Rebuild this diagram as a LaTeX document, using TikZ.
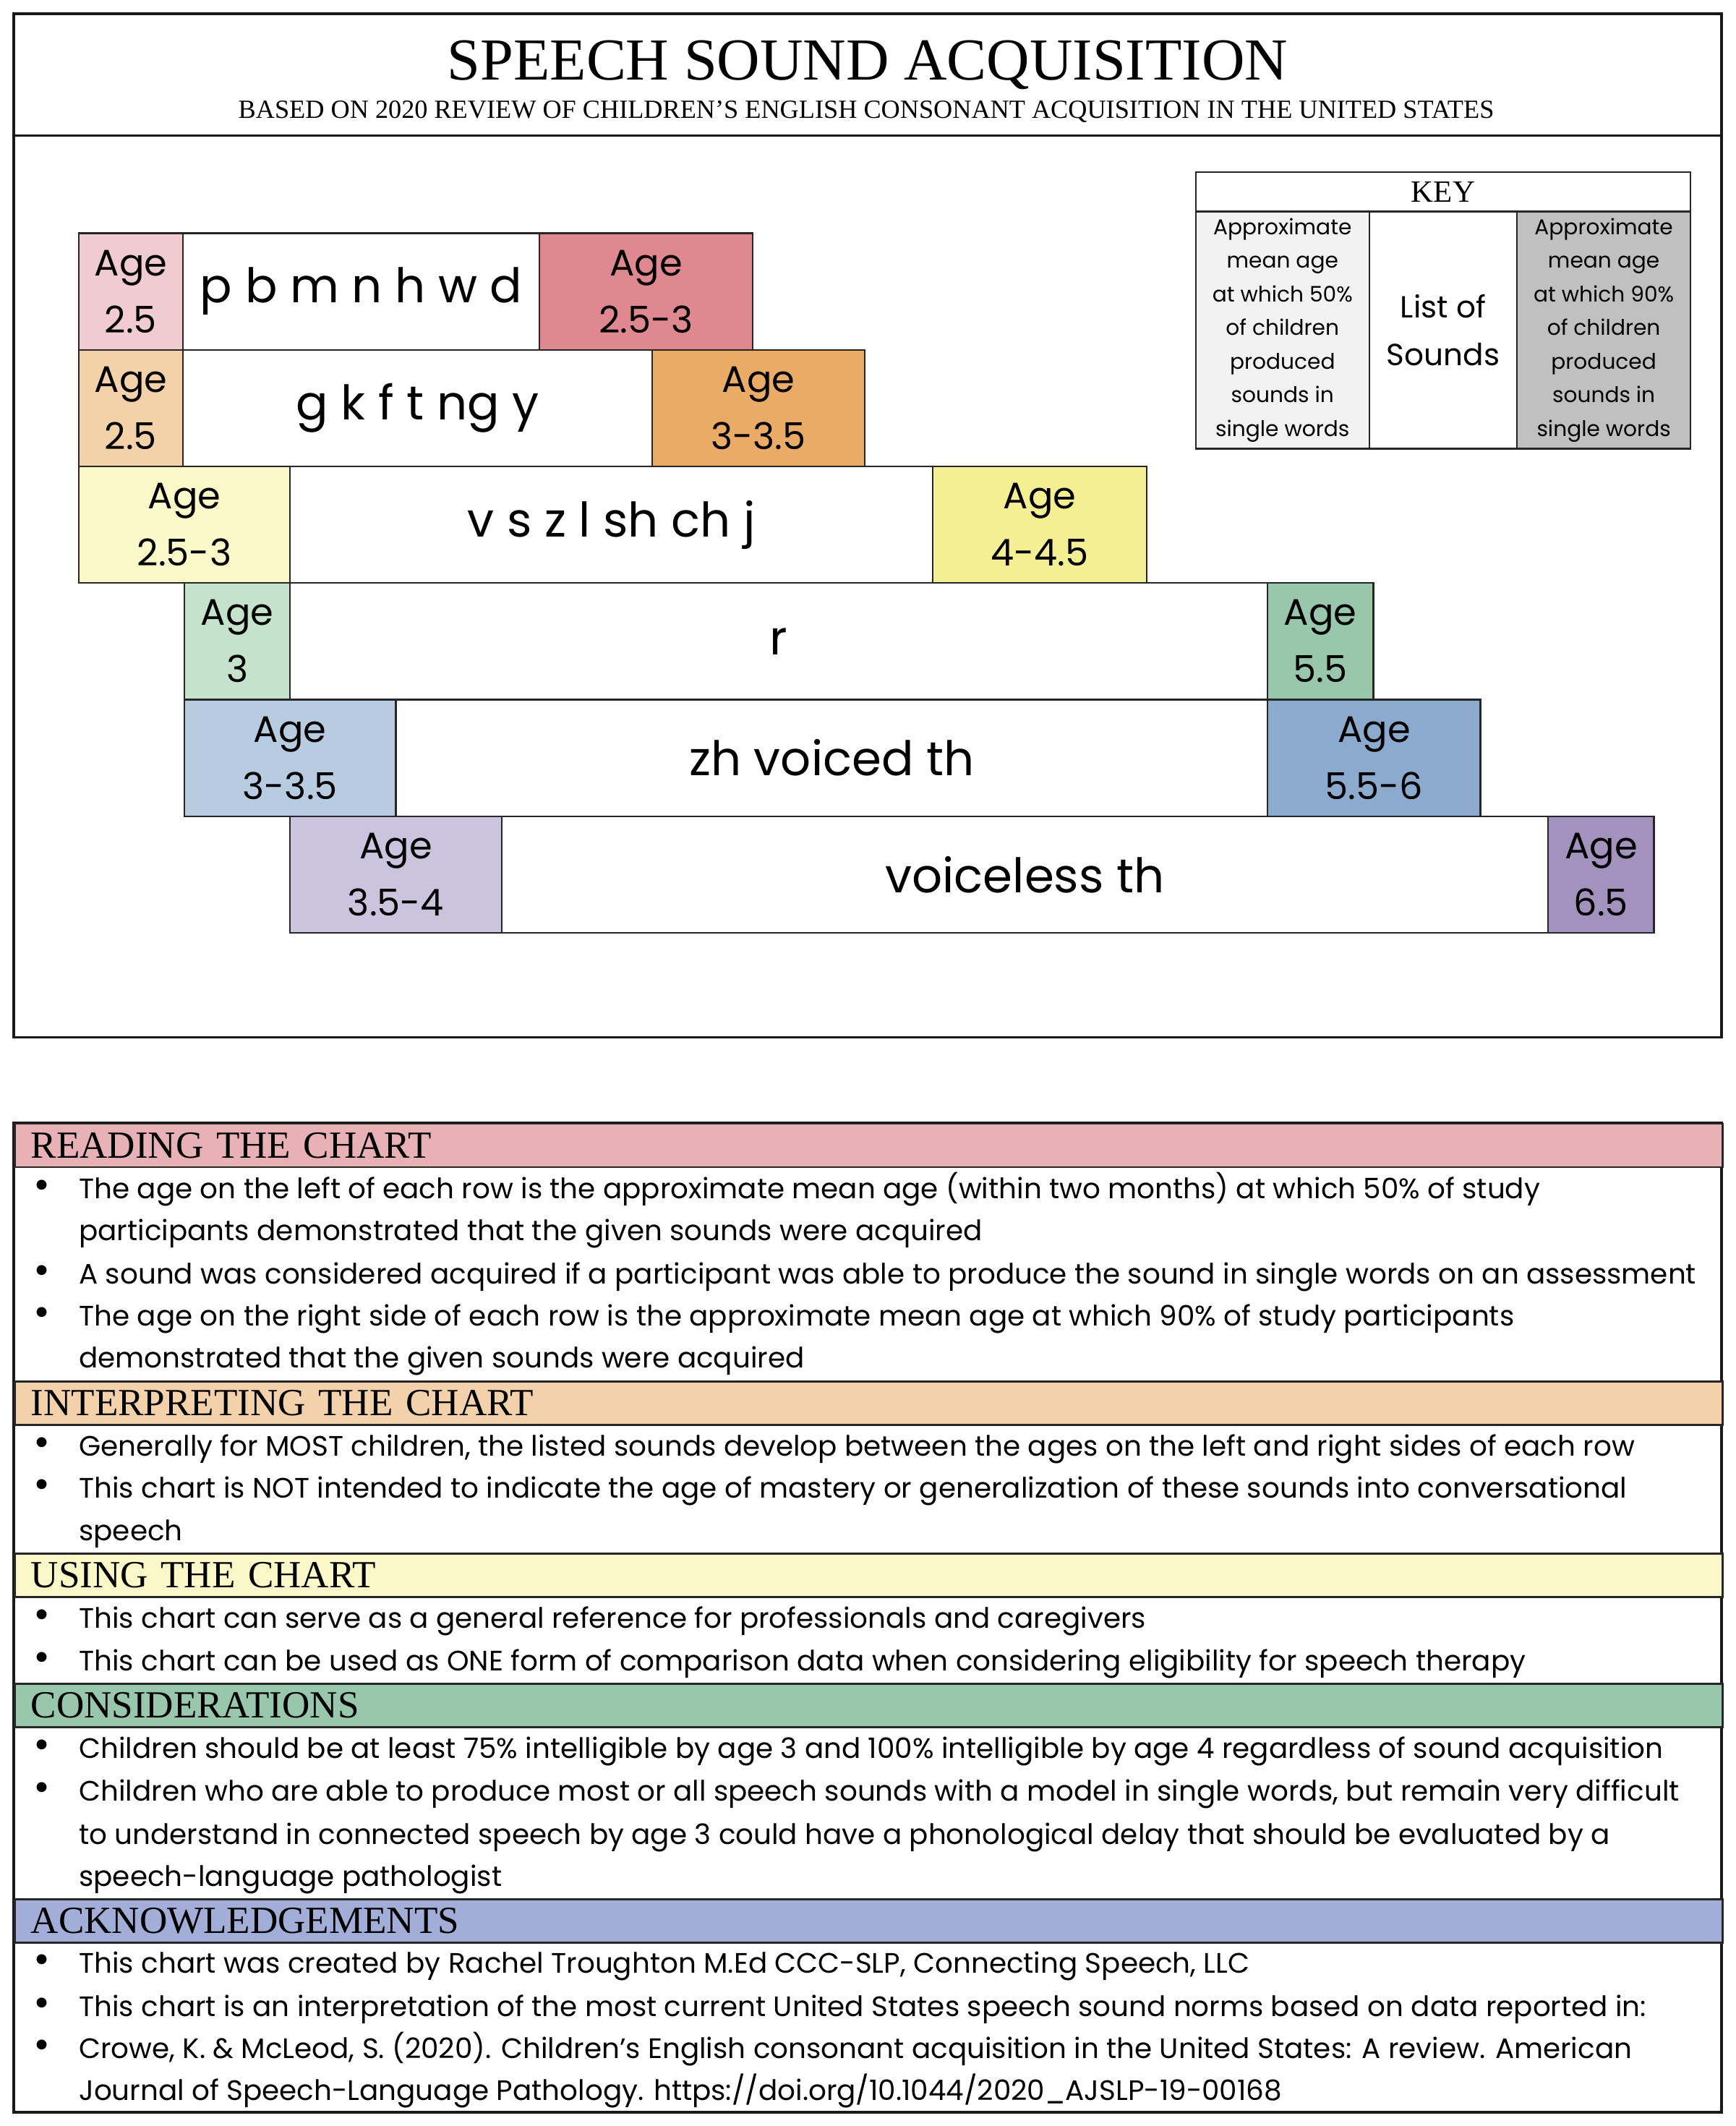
\documentclass[tikz,border=0pt]{standalone}
\usepackage{fontspec}
\setmainfont{Poppins}
\newfontfamily\headfont{Liberation Serif}
\usetikzlibrary{positioning}

% colours of the chart
\definecolor{lowA}{HTML}{F0CBD1}
\definecolor{highA}{HTML}{E0888F}
\definecolor{lowB}{HTML}{F4D2A9}
\definecolor{highB}{HTML}{EAAB66}
\definecolor{lowC}{HTML}{FAF7C8}
\definecolor{highC}{HTML}{F4EF93}
\definecolor{lowD}{HTML}{C5E3CB}
\definecolor{highD}{HTML}{98C7AB}
\definecolor{lowE}{HTML}{B8CCE1}
\definecolor{highE}{HTML}{8BAACE}
\definecolor{lowF}{HTML}{CBC4DE}
\definecolor{highF}{HTML}{A392BE}
\definecolor{keyL}{HTML}{F2F2F2}
\definecolor{keyR}{HTML}{C0C0C0}
\definecolor{hdReading}{HTML}{E7B1B6}
\definecolor{hdInterp}{HTML}{F3D1AB}
\definecolor{hdUsing}{HTML}{FAF7C8}
\definecolor{hdConsid}{HTML}{98C7AB}
\definecolor{hdAck}{HTML}{A3AED8}

\newcommand\agefont{\fontsize{15.5}{24}\selectfont}
\newcommand\soundfont{\fontsize{20}{24}\selectfont}
\newcommand\keyfont{\fontsize{9}{14.1}\selectfont}
\newcommand\bodyfont{\fontsize{11.8}{17.6}\selectfont}

\tikzset{
  cell/.style={draw=black!85, line width=0.7pt, inner sep=0pt, outer sep=0pt,
    minimum height=17.2mm, align=center},
  agebox/.style={cell, font=\agefont},
  soundbox/.style={cell, fill=white, font=\soundfont},
  keycell/.style={draw=black!85, line width=0.7pt, inner sep=0pt, outer sep=0pt,
    anchor=north west, minimum height=35mm, align=center, font=\keyfont},
  headbar/.style={draw=black!85, line width=0.9pt, anchor=north west, inner xsep=2.4mm,
    inner ysep=0pt, minimum height=6.4mm, text width=247.2mm, align=left,
    font=\headfont\fontsize{16.1}{18}\selectfont},
  txt/.style={anchor=base west, inner sep=0pt, font=\bodyfont},
  dot/.style={anchor=base, inner sep=0pt, font=\fontsize{17}{18}\selectfont}
}

\begin{document}
\begin{tikzpicture}[x=0.2mm,y=-0.2mm]
  \useasboundingbox (0,0) rectangle (1280,1568);

  % Title frame
  \draw[line width=1.1pt, black!90] (10,10) rectangle (1270,765);
  \draw[line width=1.1pt, black!90] (10,100) -- (1270,100);
  \node[anchor=base, inner sep=0pt, font=\headfont\fontsize{25}{28}\selectfont] (title) at (640,59)
    {SPEECH SOUND ACQUISITION};
  \node[anchor=base, inner sep=0pt, font=\headfont\fontsize{11}{12}\selectfont] (subtitle) at (639,87)
    {BASED ON 2020 REVIEW OF CHILDREN’S ENGLISH CONSONANT ACQUISITION IN THE UNITED STATES};

  % Key
  \node[keycell, minimum width=73mm, minimum height=5.8mm, font=\headfont\fontsize{13}{15}\selectfont]
    (keyhead) at (882,127) {KEY};
  \node[keycell, fill=keyL, minimum width=25.6mm] (keylow) at (882,156)
    {Approximate\\mean age\\at which 50\%\\of children\\produced\\sounds in\\single words};
  \node[keycell, fill=white, minimum width=21.8mm, font=\fontsize{12.8}{20}\selectfont] (keylist) at (1010,156)
    {List of\\Sounds};
  \node[keycell, fill=keyR, minimum width=25.6mm] (keyhigh) at (1119,156)
    {Approximate\\mean age\\at which 90\%\\of children\\produced\\sounds in\\single words};

  % Row 1
  \node[agebox, fill=lowA, anchor=north west, minimum width=15.4mm] (l1) at (58,172) {Age\\2.5};
  \node[soundbox, minimum width=52.6mm, right=0pt of l1] (s1) {p b m n h w d};
  \node[agebox, fill=highA, minimum width=31.4mm, right=0pt of s1] (r1) {Age\\2.5-3};
  % Row 2
  \node[agebox, fill=lowB, anchor=north west, minimum width=15.4mm] (l2) at (58,258) {Age\\2.5};
  \node[soundbox, minimum width=69.2mm, right=0pt of l2] (s2) {g k f t ng y};
  \node[agebox, fill=highB, minimum width=31.4mm, right=0pt of s2] (r2) {Age\\3-3.5};
  % Row 3
  \node[agebox, fill=lowC, anchor=north west, minimum width=31.2mm] (l3) at (58,344) {Age\\2.5-3};
  \node[soundbox, minimum width=94.8mm, right=0pt of l3] (s3) {v s z l sh ch j};
  \node[agebox, fill=highC, minimum width=31.6mm, right=0pt of s3] (r3) {Age\\4-4.5};
  % Row 4
  \node[agebox, fill=lowD, anchor=north west, minimum width=15.6mm] (l4) at (136,430) {Age\\3};
  \node[soundbox, minimum width=144.2mm, right=0pt of l4] (s4) {r};
  \node[agebox, fill=highD, minimum width=15.6mm, right=0pt of s4] (r4) {Age\\5.5};
  % Row 5
  \node[agebox, fill=lowE, anchor=north west, minimum width=31.2mm] (l5) at (136,516) {Age\\3-3.5};
  \node[soundbox, minimum width=128.6mm, right=0pt of l5] (s5) {zh voiced th};
  \node[agebox, fill=highE, minimum width=31.4mm, right=0pt of s5] (r5) {Age\\5.5-6};
  % Row 6
  \node[agebox, fill=lowF, anchor=north west, minimum width=31.2mm] (l6) at (214,602) {Age\\3.5-4};
  \node[soundbox, minimum width=154.4mm, right=0pt of l6] (s6) {voiceless th};
  \node[agebox, fill=highF, minimum width=15.6mm, right=0pt of s6] (r6) {Age\\6.5};

  % Notes frame
  \draw[line width=1.1pt, black!90] (10,828) rectangle (1270,1558);

  % Reading the chart
  \node[headbar, fill=hdReading] (hread) at (10,828) {READING THE CHART};
  \node[dot] (b1) at (31,884) {•};
  \node[txt] (t1) at (58,884) {The age on the left of each row is the approximate mean age (within two months) at which 50\% of study};
  \node[txt] (t2) at (58,915) {participants demonstrated that the given sounds were acquired};
  \node[dot] (b2) at (31,947) {•};
  \node[txt] (t3) at (58,947) {A sound was considered acquired if a participant was able to produce the sound in single words on an assessment};
  \node[dot] (b3) at (31,978) {•};
  \node[txt] (t4) at (58,978) {The age on the right side of each row is the approximate mean age at which 90\% of study participants};
  \node[txt] (t5) at (58,1009) {demonstrated that the given sounds were acquired};

  % Interpreting the chart
  \node[headbar, fill=hdInterp] (hinterp) at (10,1018) {INTERPRETING THE CHART};
  \node[dot] (b4) at (31,1074) {•};
  \node[txt] (t6) at (58,1074) {Generally for MOST children, the listed sounds develop between the ages on the left and right sides of each row};
  \node[dot] (b5) at (31,1105) {•};
  \node[txt] (t7) at (58,1105) {This chart is NOT intended to indicate the age of mastery or generalization of these sounds into conversational};
  \node[txt] (t8) at (58,1136) {speech};

  % Using the chart
  \node[headbar, fill=hdUsing] (husing) at (10,1145) {USING THE CHART};
  \node[dot] (b6) at (31,1201) {•};
  \node[txt] (t9) at (58,1201) {This chart can serve as a general reference for professionals and caregivers};
  \node[dot] (b7) at (31,1232) {•};
  \node[txt] (t10) at (58,1232) {This chart can be used as ONE form of comparison data when considering eligibility for speech therapy};

  % Considerations
  \node[headbar, fill=hdConsid] (hconsid) at (10,1241) {CONSIDERATIONS};
  \node[dot] (b8) at (31,1297) {•};
  \node[txt] (t11) at (58,1297) {Children should be at least 75\% intelligible by age 3 and 100\% intelligible by age 4 regardless of sound acquisition};
  \node[dot] (b9) at (31,1328) {•};
  \node[txt] (t12) at (58,1328) {Children who are able to produce most or all speech sounds with a model in single words, but remain very difficult};
  \node[txt] (t13) at (58,1360) {to understand in connected speech by age 3 could have a phonological delay that should be evaluated by a};
  \node[txt] (t14) at (58,1391) {speech-language pathologist};

  % Acknowledgements
  \node[headbar, fill=hdAck] (hack) at (10,1400) {ACKNOWLEDGEMENTS};
  \node[dot] (b10) at (31,1455) {•};
  \node[txt] (t15) at (58,1455) {This chart was created by Rachel Troughton M.Ed CCC-SLP, Connecting Speech, LLC};
  \node[dot] (b11) at (31,1487) {•};
  \node[txt] (t16) at (58,1487) {This chart is an interpretation of the most current United States speech sound norms based on data reported in:};
  \node[dot] (b12) at (31,1518) {•};
  \node[txt] (t17) at (58,1518) {Crowe, K. \& McLeod, S. (2020). Children’s English consonant acquisition in the United States: A review. American};
  \node[txt] (t18) at (58,1549) {Journal of Speech-Language Pathology. https://doi.org/10.1044/2020\_AJSLP-19-00168};
\end{tikzpicture}
\end{document}
